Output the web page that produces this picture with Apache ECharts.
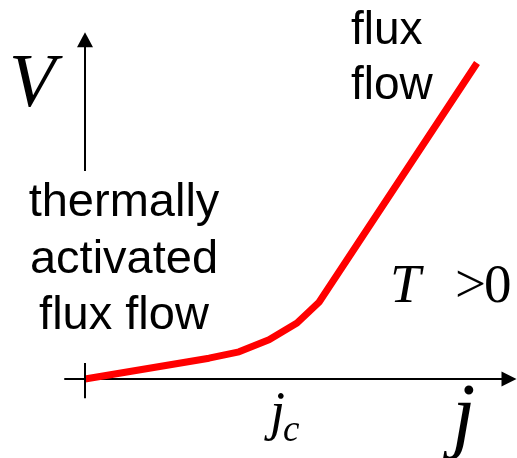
<!DOCTYPE html>
<html>
<head>
<meta charset="utf-8">
<script src="https://cdn.jsdelivr.net/npm/echarts@6/dist/echarts.min.js"></script>
<style>
  html, body { margin: 0; padding: 0; background: #fff; }
  #chart { width: 517px; height: 458px; }
</style>
</head>
<body>
<div id="chart"></div>
<script>
// Current density j (in arbitrary units, j_c near 1) and voltage V for the V–j curve at T > 0
const currentDensity = [0, 0.62, 0.77, 0.92, 1.06, 1.17, 1.96];
const voltage        = [0, 0.26, 0.34, 0.49, 0.70, 0.96, 3.95];

// Annotation texts
const axisNameV = 'V';
const axisNameJ = 'j';
const criticalLabel = ['j', 'c'];
const lowRegime = ['thermally', 'activated', 'flux flow'];
const highRegime = ['flux', 'flow'];
const temperatureNote = ['T', '>', '0'];

const curve = currentDensity.map((j, i) => [j, voltage[i]]);

const sans = 'Liberation Sans, Arial, sans-serif';
const serif = 'Liberation Serif, Times New Roman, serif';

const chart = echarts.init(document.getElementById('chart'), null, { renderer: 'canvas' });

chart.setOption({
  animation: false,
  backgroundColor: '#ffffff',
  grid: { left: 65, right: 12, top: 19, bottom: 39 },
  xAxis: {
    type: 'value',
    min: -0.1,
    max: 2.1,
    axisLine: {
      show: true,
      onZero: true,
      symbol: ['none', 'triangle'],
      symbolSize: [15, 15],
      symbolOffset: [0, 4],
      lineStyle: { color: '#000', width: 2 }
    },
    axisTick: { show: false },
    axisLabel: { show: false },
    splitLine: { show: false }
  },
  yAxis: {
    type: 'value',
    min: -0.5,
    max: 4.5,
    axisLine: { show: false },
    axisTick: { show: false },
    axisLabel: { show: false },
    splitLine: { show: false }
  },
  series: [{
    type: 'line',
    data: curve,
    showSymbol: false,
    silent: true,
    lineStyle: { color: '#ff0000', width: 7 },
    markLine: {
      silent: true,
      symbol: ['none', 'none'],
      label: { show: false },
      emphasis: { disabled: true },
      lineStyle: { color: '#000', width: 2, type: 'solid' },
      data: [
        [
          { coord: [0, 2.6], symbol: 'none' },
          { coord: [0, 4.24], symbol: 'triangle', symbolSize: [16, 15] }
        ],
        [
          { coord: [0, -0.24], symbol: 'none' },
          { coord: [0, 0.2], symbol: 'none' }
        ]
      ]
    }
  }],
  graphic: [
    {
      type: 'text', x: 9, y: 86, silent: true,
      style: { text: axisNameV, fontFamily: serif, fontStyle: 'italic', fontSize: 76,
               fill: '#000', align: 'left', verticalAlign: 'middle' }
    },
    {
      type: 'text', x: 124, y: 260, silent: true,
      style: { text: lowRegime.join('\n'), fontFamily: sans, fontSize: 47, lineHeight: 56.5,
               fill: '#000', align: 'center', verticalAlign: 'middle' }
    },
    {
      type: 'text', x: 351, y: 58.5, silent: true,
      style: { text: highRegime.join('\n'), fontFamily: sans, fontSize: 46, lineHeight: 55,
               fill: '#000', align: 'left', verticalAlign: 'middle' }
    },
    {
      type: 'text', x: 390, y: 288, silent: true,
      style: { text: temperatureNote[0], fontFamily: serif, fontStyle: 'italic', fontSize: 55,
               fill: '#000', align: 'left', verticalAlign: 'middle' }
    },
    {
      type: 'text', x: 455, y: 288, silent: true,
      style: { text: temperatureNote[1], fontFamily: serif, fontSize: 55,
               fill: '#000', align: 'left', verticalAlign: 'middle' }
    },
    {
      type: 'text', x: 484, y: 288, silent: true,
      style: { text: temperatureNote[2], fontFamily: serif, fontSize: 55,
               fill: '#000', align: 'left', verticalAlign: 'middle' }
    },
    {
      type: 'text', x: 270, y: 415, silent: true,
      style: { text: criticalLabel[0], fontFamily: serif, fontStyle: 'italic', fontSize: 54,
               fill: '#000', align: 'left', verticalAlign: 'middle' }
    },
    {
      type: 'text', x: 283, y: 431, silent: true,
      style: { text: criticalLabel[1], fontFamily: serif, fontStyle: 'italic', fontSize: 37,
               fill: '#000', align: 'left', verticalAlign: 'middle' }
    },
    {
      type: 'text', x: 452, y: 420, silent: true,
      style: { text: axisNameJ, fontFamily: serif, fontStyle: 'italic', fontSize: 84,
               fill: '#000', align: 'left', verticalAlign: 'middle' }
    }
  ]
});
</script>
</body>
</html>
